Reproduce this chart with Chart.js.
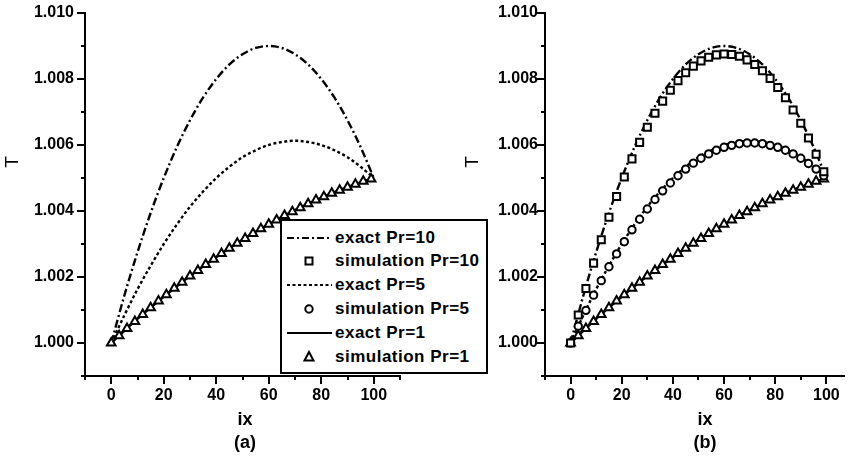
<!DOCTYPE html>
<html><head><meta charset="utf-8">
<script src="https://cdn.jsdelivr.net/npm/chart.js@4"></script>
<style>
body{margin:0;background:#fff;}
#wrap{position:relative;width:851px;height:459px;overflow:hidden;background:#fff;font-family:"Liberation Sans",Arial,sans-serif;color:#000;}
canvas{position:absolute;top:0;}
.lbl{position:absolute;font-weight:bold;font-size:18px;transform:translate(-50%,-50%);white-space:nowrap;}
.ttl{position:absolute;font-size:19px;transform:translate(-50%,-50%) rotate(-90deg);white-space:nowrap;}
#legend{position:absolute;left:280px;top:219px;width:208px;height:155px;border:2px solid #000;background:#fff;box-sizing:border-box;}
.row{position:absolute;left:0;height:24px;width:206px;}
.row svg{position:absolute;left:3px;top:0;}
.row span{position:absolute;left:53px;top:50%;transform:translateY(-52%);font-weight:bold;font-size:17px;letter-spacing:0.5px;white-space:nowrap;}
</style></head>
<body>
<div id="wrap">
  <canvas id="ca" width="430" height="459" style="left:0"></canvas>
  <canvas id="cb" width="421" height="459" style="left:430px"></canvas>
  <div class="ttl" style="left:12px;top:162px">T</div>
  <div class="ttl" style="left:472px;top:162px">T</div>
  <div class="lbl" style="left:245px;top:419px">ix</div>
  <div class="lbl" style="left:245px;top:442px">(a)</div>
  <div class="lbl" style="left:705px;top:419px">ix</div>
  <div class="lbl" style="left:705px;top:442px">(b)</div>
  <div id="legend"></div>
</div>
<script>
// ---- data ----
const ixExact = [0,5,10,15,20,25,30,35,40,45,50,55,60,65,70,75,80,85,90,95,100];
const exactPr10 = [1.00000,1.00144,1.00275,1.00394,1.00500,1.00594,1.00675,1.00744,1.00800,1.00844,1.00875,1.00894,1.00900,1.00894,1.00875,1.00844,1.00800,1.00744,1.00675,1.00594,1.00500];
const exactPr5  = [1.00000,1.00084,1.00163,1.00234,1.00300,1.00359,1.00413,1.00459,1.00500,1.00534,1.00563,1.00584,1.00600,1.00609,1.00613,1.00609,1.00600,1.00584,1.00563,1.00534,1.00500];
const exactPr1  = [1.00000,1.00037,1.00073,1.00107,1.00140,1.00172,1.00203,1.00232,1.00260,1.00287,1.00313,1.00337,1.00360,1.00382,1.00403,1.00422,1.00440,1.00457,1.00473,1.00487,1.00500];

const ixSim = [0,3,6,9,12,15,18,21,24,27,30,33,36,39,42,45,48,51,54,57,60,63,66,69,72,75,78,81,84,87,90,93,96,99];
const simPr10 = [1.00000,1.00085,1.00165,1.00242,1.00313,1.00381,1.00444,1.00503,1.00558,1.00608,1.00654,1.00696,1.00733,1.00766,1.00795,1.00819,1.00839,1.00855,1.00866,1.00873,1.00876,1.00874,1.00869,1.00858,1.00844,1.00825,1.00802,1.00774,1.00743,1.00706,1.00666,1.00621,1.00572,1.00519];
const simPr5  = [1.00000,1.00051,1.00099,1.00145,1.00189,1.00231,1.00270,1.00307,1.00343,1.00375,1.00406,1.00435,1.00461,1.00485,1.00507,1.00527,1.00545,1.00560,1.00573,1.00584,1.00593,1.00599,1.00604,1.00606,1.00606,1.00604,1.00599,1.00593,1.00584,1.00573,1.00560,1.00544,1.00527,1.00507];
const simPr1  = [1.00000,1.00022,1.00044,1.00065,1.00086,1.00107,1.00127,1.00146,1.00166,1.00184,1.00203,1.00220,1.00238,1.00254,1.00271,1.00287,1.00302,1.00317,1.00332,1.00346,1.00360,1.00373,1.00386,1.00398,1.00410,1.00422,1.00433,1.00443,1.00454,1.00463,1.00472,1.00481,1.00490,1.00497];

const xTicks = [-10,0,10,20,30,40,50,60,70,80,90,100,110];
const xTickLabels = ['','0','','20','','40','','60','','80','','100',''];
const yTicks = [0.999,1.000,1.001,1.002,1.003,1.004,1.005,1.006,1.007,1.008,1.009,1.010];
const yTickLabels = ['','1.000','','1.002','','1.004','','1.006','','1.008','','1.010'];

const legendItems = [
  {text:'exact Pr=10', kind:'dashdot'},
  {text:'simulation Pr=10', kind:'rect'},
  {text:'exact Pr=5', kind:'dash'},
  {text:'simulation Pr=5', kind:'circle'},
  {text:'exact Pr=1', kind:'solid'},
  {text:'simulation Pr=1', kind:'triangle'}
];

// ---- helpers ----
const pts = (xs, ys) => xs.map((x,i)=>({x:x, y:ys[i]}));
function lineDS(ys, dash){
  return {data:pts(ixExact, ys), showLine:true, borderColor:'#000', borderWidth:2.4, borderDash:dash, pointRadius:0, fill:false, cubicInterpolationMode:'monotone', order:2};
}
function simDS(ys, style, r){
  return {data:pts(ixSim, ys), showLine:false, pointStyle:style, pointRadius:r, pointBorderWidth:2, pointBorderColor:'#000', pointBackgroundColor:'#fff', borderColor:'#000', backgroundColor:'#fff', order:1};
}
const DASHDOT=[8,3,2,3], DASH=[3,2.5];

const tickPlugin = {
  id:'axisTicks',
  afterDraw(chart){
    const ctx=chart.ctx, xs=chart.scales.x, ys=chart.scales.y;
    ctx.save(); ctx.strokeStyle='#000'; ctx.lineWidth=2;
    xTicks.forEach((v,i)=>{
      if(v<xs.min-1e-9||v>xs.max+1e-9) return;
      const px=Math.round(xs.getPixelForValue(v));
      const L=xTickLabels[i]!==''?8:4;
      ctx.beginPath(); ctx.moveTo(px, xs.top); ctx.lineTo(px, xs.top+L); ctx.stroke();
    });
    yTicks.forEach((v,i)=>{
      if(v<ys.min-1e-9||v>ys.max+1e-9) return;
      const py=Math.round(ys.getPixelForValue(v));
      const L=yTickLabels[i]!==''?8:4;
      ctx.beginPath(); ctx.moveTo(ys.right, py); ctx.lineTo(ys.right-L, py); ctx.stroke();
    });
    ctx.restore();
  }
};

function makeChart(id, datasets, xmax, yWidth, padRight, yPad){
  return new Chart(document.getElementById(id), {
    type:'scatter',
    data:{datasets:datasets},
    plugins:[tickPlugin],
    options:{
      responsive:false, animation:false, events:[],
      layout:{padding:{top:13, right:padRight, bottom:0, left:0}},
      plugins:{legend:{display:false}, tooltip:{enabled:false}},
      scales:{
        x:{type:'linear', min:-10, max:xmax,
          afterBuildTicks:s=>{ s.ticks = xTicks.filter(v=>v<=xmax).map(v=>({value:v})); },
          afterFit:s=>{ s.height = 83; s.paddingLeft = 0; s.paddingRight = 0; },
          grid:{display:false, drawTicks:false},
          border:{display:true, color:'#000', width:2},
          ticks:{autoSkip:false, maxRotation:0, padding:10, color:'#000', font:{family:'"Liberation Sans", Arial', size:16, weight:'bold'},
            callback:(v)=>{ const i=xTicks.indexOf(v); return i>=0?xTickLabels[i]:''; }}
        },
        y:{type:'linear', min:0.999, max:1.010,
          afterBuildTicks:s=>{ s.ticks = yTicks.map(v=>({value:v})); },
          afterFit:s=>{ s.width = yWidth; s.paddingTop = 0; s.paddingBottom = 0; },
          grid:{display:false, drawTicks:false},
          border:{display:true, color:'#000', width:2},
          ticks:{autoSkip:false, padding:yPad, color:'#000', font:{family:'"Liberation Sans", Arial', size:16, weight:'bold'},
            callback:(v)=>{ const i=yTicks.findIndex(t=>Math.abs(t-v)<1e-7); return i>=0?yTickLabels[i]:''; }}
        }
      }
    }
  });
}

makeChart('ca', [
  simDS(simPr1,'triangle',5),
  lineDS(exactPr10, DASHDOT),
  lineDS(exactPr5, DASH),
  lineDS(exactPr1, [])
], 110, 85, 30, 11);

makeChart('cb', [
  simDS(simPr10,'rect',5),
  simDS(simPr5,'circle',3.7),
  simDS(simPr1,'triangle',5),
  lineDS(exactPr10, DASHDOT),
  lineDS(exactPr5, DASH),
  lineDS(exactPr1, [])
], 106.9, 115, 0, 7);

// ---- legend (HTML) ----
const lg=document.getElementById('legend');
legendItems.forEach((it,k)=>{
  const row=document.createElement('div'); row.className='row';
  row.style.top=(4.5 + k*23.8)+'px';
  let g='';
  if(it.kind==='dashdot') g='<line x1="2" y1="12" x2="47" y2="12" stroke="#000" stroke-width="2.2" stroke-dasharray="7 3 2 3"/>';
  if(it.kind==='dash') g='<line x1="2" y1="12" x2="47" y2="12" stroke="#000" stroke-width="2.2" stroke-dasharray="3 2.5"/>';
  if(it.kind==='solid') g='<line x1="2" y1="12" x2="47" y2="12" stroke="#000" stroke-width="2.2"/>';
  if(it.kind==='rect') g='<rect x="20.5" y="8.5" width="7" height="7" fill="#fff" stroke="#000" stroke-width="2"/>';
  if(it.kind==='circle') g='<circle cx="24" cy="12" r="3.7" fill="#fff" stroke="#000" stroke-width="2"/>';
  if(it.kind==='triangle') g='<polygon points="24,7 28.5,15.5 19.5,15.5" fill="#fff" stroke="#000" stroke-width="2"/>';
  row.innerHTML='<svg width="50" height="24">'+g+'</svg><span>'+it.text+'</span>';
  lg.appendChild(row);
});
</script>
</body></html>
